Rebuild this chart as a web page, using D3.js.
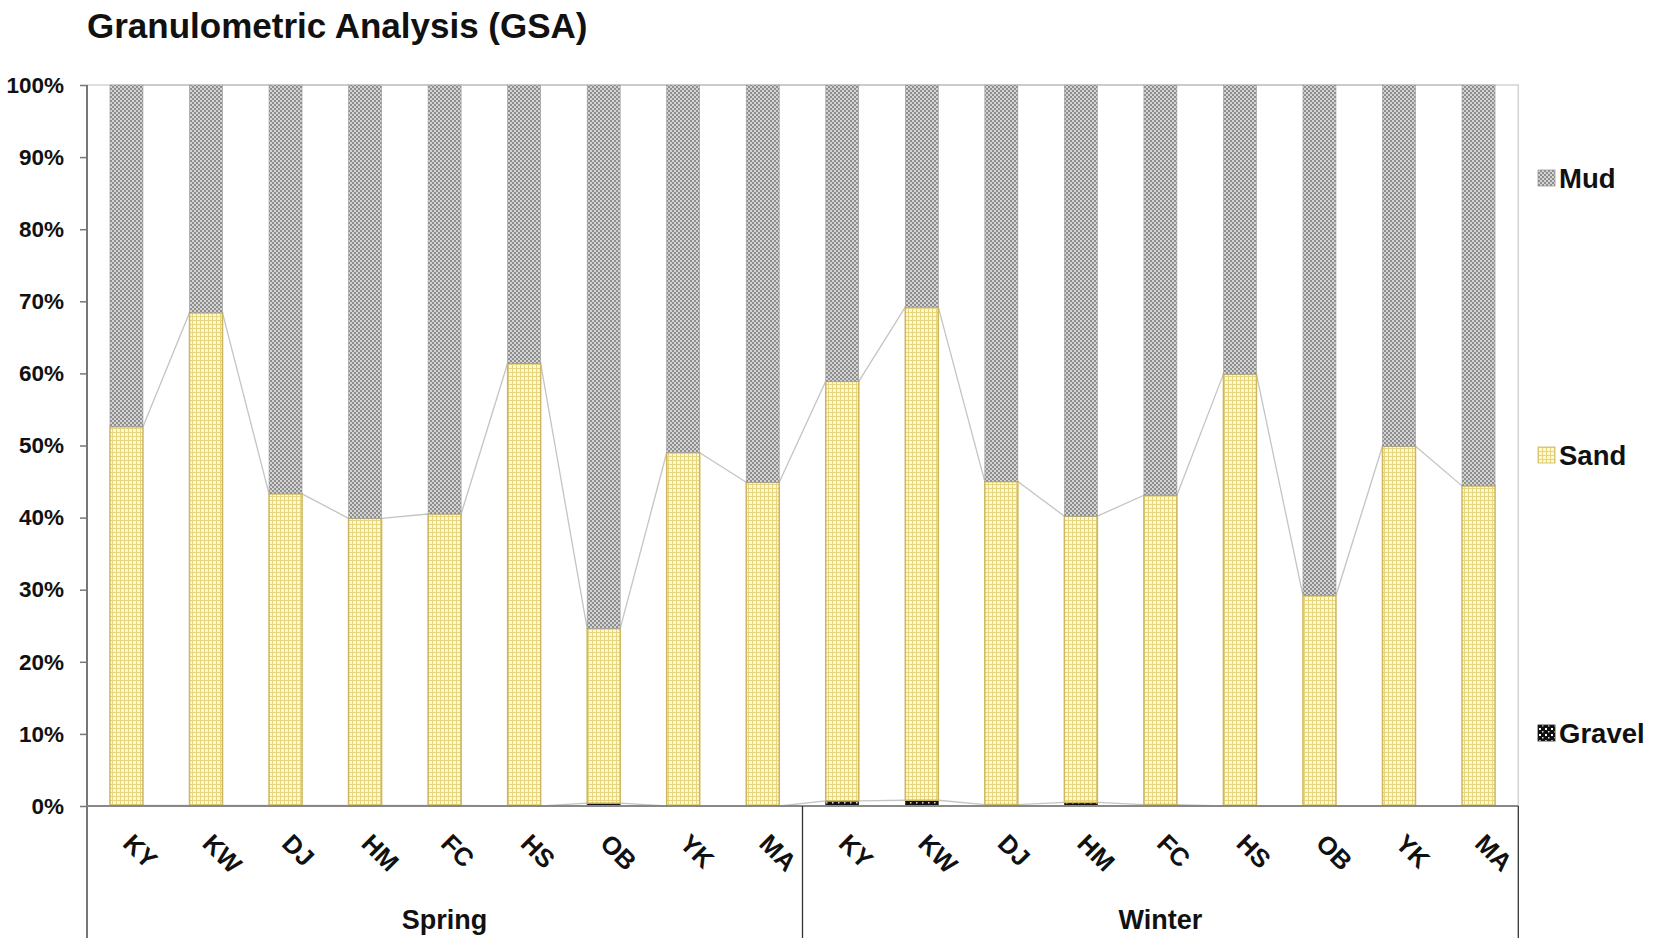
<!DOCTYPE html>
<meta charset="utf-8">
<head>
  <title>Granulometric Analysis (GSA)</title>
  <script src="https://cdn.jsdelivr.net/npm/d3@7"></script>
  <style>
    body { margin: 0; background: #fff; }
    text { font-family: "Liberation Sans", Arial, sans-serif; font-weight: bold; fill: #111; }
  </style>
</head>
<body>
<svg id="chart"></svg>
<script>
// sites sampled in each season
const sites = ["KY", "KW", "DJ", "HM", "FC", "HS", "OB", "YK", "MA"];
const seasons = ["Spring", "Winter"];
const series = ["Gravel", "Sand", "Mud"];

// percentages, spring sites first then winter sites
const gravel = [0.1, 0.1, 0.1, 0.1, 0.1, 0.0, 0.4, 0.0, 0.0,
                0.7, 0.8, 0.2, 0.5, 0.2, 0.0, 0.0, 0.0, 0.0];
const sand   = [52.5, 68.3, 43.2, 39.8, 40.4, 61.4, 24.2, 49.0, 44.9,
                58.2, 68.4, 44.8, 39.7, 42.9, 59.9, 29.2, 49.9, 44.4];
const mud    = [47.4, 31.6, 56.7, 60.1, 59.5, 38.6, 75.4, 51.0, 55.1,
                41.1, 30.8, 55.0, 59.8, 56.9, 40.1, 70.8, 50.1, 55.6];

const yTicks = d3.range(0, 11).map(d => d / 10);

var W = 1653, H = 949;
var pLeft = 86.7, pRight = 1518.3, pTop = 85, pBottom = 806;

var svg = d3.select("#chart").attr("width", W).attr("height", H);

// patterns
var defs = svg.append("defs");
var pMud = defs.append("pattern").attr("id", "pMud").attr("patternUnits", "userSpaceOnUse")
  .attr("width", 4).attr("height", 4);
pMud.append("rect").attr("width", 4).attr("height", 4).attr("fill", "#8e8e8e");
pMud.append("circle").attr("cx", 1).attr("cy", 1).attr("r", 0.95).attr("fill", "#f2f2f2");
pMud.append("circle").attr("cx", 3).attr("cy", 3).attr("r", 0.95).attr("fill", "#f2f2f2");

var pSand = defs.append("pattern").attr("id", "pSand").attr("patternUnits", "userSpaceOnUse")
  .attr("width", 4).attr("height", 4);
pSand.append("rect").attr("width", 4).attr("height", 4).attr("fill", "#fff9d2");
pSand.append("path").attr("d", "M0,0.5H4M0.5,0V4").attr("stroke", "#e6d47f").attr("stroke-width", 1);

var pGravel = defs.append("pattern").attr("id", "pGravel").attr("patternUnits", "userSpaceOnUse")
  .attr("width", 6).attr("height", 6);
pGravel.append("rect").attr("width", 6).attr("height", 6).attr("fill", "#111");
pGravel.append("rect").attr("x", 1).attr("y", 1).attr("width", 2).attr("height", 2).attr("fill", "#fff");
pGravel.append("rect").attr("x", 4).attr("y", 4).attr("width", 1.5).attr("height", 1.5).attr("fill", "#ddd");

var fills = {Gravel: "url(#pGravel)", Sand: "url(#pSand)", Mud: "url(#pMud)"};
var strokes = {Gravel: "#222", Sand: "#cdb65c", Mud: "#9a9a9a"};

// table
var rows = [];
seasons.forEach(function(s, si) {
  sites.forEach(function(site, i) {
    var k = si * sites.length + i;
    rows.push({key: s + "-" + site, site: site, season: s, Gravel: gravel[k], Sand: sand[k], Mud: mud[k]});
  });
});

var stacked = d3.stack().keys(series).offset(d3.stackOffsetExpand)(rows);

var x = d3.scaleBand().domain(rows.map(d => d.key)).range([pLeft, pRight])
  .paddingInner(0.585).paddingOuter(0.2925);
var y = d3.scaleLinear().domain([0, 1]).range([pBottom, pTop]);

// title
svg.append("text").attr("x", 87).attr("y", 38).style("font-size", "35px").text("Granulometric Analysis (GSA)");

// plot frame
svg.append("path").attr("d", "M" + pLeft + "," + pTop + "H" + pRight + "V" + pBottom)
  .attr("fill", "none").attr("stroke", "#d4d4d4").attr("stroke-width", 1.5);

// series lines
var bw = x.bandwidth();
stacked.forEach(function(layer) {
  for (var i = 0; i < rows.length - 1; i++) {
    svg.append("line")
      .attr("x1", x(rows[i].key) + bw).attr("y1", y(layer[i][1]))
      .attr("x2", x(rows[i + 1].key)).attr("y2", y(layer[i + 1][1]))
      .attr("stroke", "#c4c4c4").attr("stroke-width", 1.3);
  }
});

// bars
svg.append("g").selectAll("g").data(stacked).enter().append("g")
  .each(function(layer) {
    d3.select(this).selectAll("rect").data(layer).enter().append("rect")
      .attr("x", (d, i) => x(rows[i].key))
      .attr("width", bw)
      .attr("y", d => y(d[1]))
      .attr("height", d => Math.max(0, y(d[0]) - y(d[1])))
      .attr("fill", fills[layer.key])
      .attr("stroke", d => (y(d[0]) - y(d[1]) > 0.5 ? strokes[layer.key] : "none"))
      .attr("stroke-width", layer.key == "Sand" ? 1.5 : 0.6);
  });

// y axis
var yAxis = svg.append("g").attr("transform", "translate(" + 87 + ",0)")
  .call(d3.axisLeft(y).tickValues(yTicks).tickFormat(d3.format(".0%")).tickSize(7).tickPadding(16));
yAxis.select(".domain").remove();
yAxis.selectAll("line").attr("stroke", "#777").attr("stroke-width", 1.5);
yAxis.selectAll("text").style("font-size", "22.5px").style("font-family", "Liberation Sans, Arial, sans-serif").attr("fill", "#111");

svg.append("line").attr("x1", 87).attr("x2", 87).attr("y1", pTop).attr("y2", 938)
  .attr("stroke", "#777").attr("stroke-width", 2);
svg.append("line").attr("x1", 87).attr("x2", pRight).attr("y1", pBottom).attr("y2", pBottom)
  .attr("stroke", "#888").attr("stroke-width", 2);

// category labels
svg.append("g").selectAll("text").data(rows).enter().append("text")
  .attr("transform", d => "translate(" + (x(d.key) + bw / 2 - 5) + ",845) rotate(45)")
  .style("font-size", "25.5px")
  .text(d => d.site);

// season groups
var mid = pLeft + (pRight - pLeft) / 2;
svg.append("line").attr("x1", mid).attr("x2", mid).attr("y1", pBottom).attr("y2", 938)
  .attr("stroke", "#333").attr("stroke-width", 1.3);
svg.append("line").attr("x1", pRight).attr("x2", pRight).attr("y1", pBottom).attr("y2", 938)
  .attr("stroke", "#333").attr("stroke-width", 1.3);
svg.append("g").selectAll("text").data(seasons).enter().append("text")
  .attr("x", (d, i) => (i == 0 ? (pLeft + mid) / 2 : (mid + pRight) / 2))
  .attr("y", 929).attr("text-anchor", "middle").style("font-size", "27px")
  .text(d => d);

// legend
var legendY = {Mud: 178, Sand: 455, Gravel: 733};
var legend = svg.append("g").selectAll("g").data(series).enter().append("g")
  .attr("transform", d => "translate(1538," + legendY[d] + ")");
legend.append("rect").attr("y", -8).attr("width", 17).attr("height", 16)
  .attr("fill", d => fills[d]).attr("stroke", d => strokes[d]).attr("stroke-width", 0.8);
legend.append("text").attr("x", 21).attr("y", 10).style("font-size", "27.5px").text(d => d);
</script>
</body>
</html>
